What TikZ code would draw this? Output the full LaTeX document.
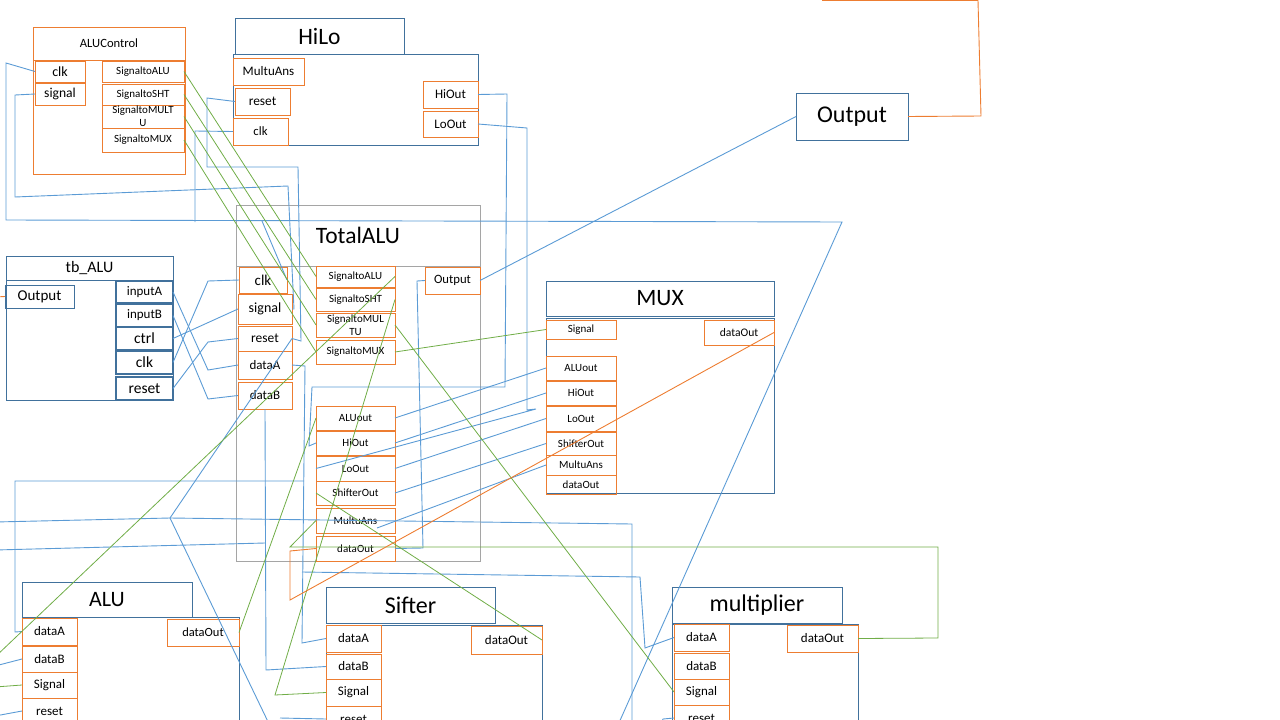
\documentclass[tikz,border=0pt]{standalone}
\usepackage{fontspec}
\setmainfont{Carlito}
\definecolor{boxblue}{HTML}{41719C}
\definecolor{wireblue}{HTML}{5B9BD5}
\definecolor{portorange}{HTML}{ED7D31}
\definecolor{siggreen}{HTML}{70AD47}
\definecolor{framegrey}{HTML}{A5A5A5}
\tikzset{
  fs/.style={font=\fontsize{#1}{13}\selectfont},
  blkb/.style={draw=boxblue, line width=0.9pt},
  blko/.style={draw=portorange, line width=1pt},
  blkg/.style={draw=framegrey, line width=1pt},
  tbport/.style={draw=boxblue, line width=1.4pt},
  wire/.style={draw=wireblue, line width=0.9pt},
  sig/.style={draw=siggreen, line width=0.8pt},
  dat/.style={draw=portorange, line width=0.9pt},
}
\begin{document}
\begin{tikzpicture}[x=1pt, y=-1pt]
		\useasboundingbox (0,0) rectangle (1280,720);
		\clip (0,0) rectangle (1280,720);
		\begin{scope}[every node/.style={inner sep=0pt, outer sep=0pt}]
		% ALUControl
		\node[blko, minimum width=152pt, minimum height=147pt] (ctl) at (109,100.5) {};
		\node[blko, fs=12.6, minimum width=152pt, minimum height=33pt] (ctl-t) at (109,43.5) {ALUControl};
		\node[blko, fs=14, minimum width=50pt, minimum height=21pt] (ctl-clk) at (60,71.5) {clk};
		\node[blko, fs=13.6, minimum width=50pt, minimum height=22pt] (ctl-sig) at (60,94) {signal};
		\node[blko, fs=11, minimum width=82pt, minimum height=21pt] (ctl-salu) at (143,71.5) {SignaltoALU};
		\node[blko, fs=11, minimum width=82pt, minimum height=21pt] (ctl-ssht) at (143,94.5) {SignaltoSHT};
		\node[blko, fs=11, align=center, minimum width=82pt, minimum height=23pt] (ctl-smul) at (143,116.5) {SignaltoMULT\\U};
		\node[blko, fs=11, minimum width=82pt, minimum height=24pt] (ctl-smux) at (143,140) {SignaltoMUX};
		
		% HiLo
		\node[blkb, fs=23.5, minimum width=169pt, minimum height=36pt] (hilo-t) at (319.5,36) {HiLo};
		\node[blkb, minimum width=245pt, minimum height=91pt] (hilo) at (355.5,99.5) {};
		\node[blko, fs=13, minimum width=71pt, minimum height=27pt] (hilo-mu) at (268.5,71.5) {MultuAns};
		\node[blko, fs=13.4, minimum width=55pt, minimum height=27pt] (hilo-rst) at (262.5,101.5) {reset};
		\node[blko, fs=12.7, minimum width=55pt, minimum height=27pt] (hilo-clk) at (260.5,131.5) {clk};
		\node[blko, fs=13, minimum width=55pt, minimum height=27pt] (hilo-hi) at (450.5,94.5) {HiOut};
		\node[blko, fs=13, minimum width=55pt, minimum height=26pt] (hilo-lo) at (450.5,124) {LoOut};
		
		% Output
		\node[blkb, fs=24, minimum width=112pt, minimum height=47pt] (out) at (852,116.5) {Output};
		
		% TotalALU
		\node[blkg, minimum width=244pt, minimum height=356pt] (tot) at (358,383) {};
		\node[blkg, fs=23.5, minimum width=244pt, minimum height=61pt] (tot-t) at (358,235.5) {TotalALU};
		\node[blko, fs=15, minimum width=48pt, minimum height=26pt] (tot-clk) at (263,280) {clk};
		\node[blko, fs=14, minimum width=54pt, minimum height=30pt] (tot-sig) at (265,309) {signal};
		\node[blko, fs=13.5, minimum width=54pt, minimum height=25pt] (tot-rst) at (265,338.5) {reset};
		\node[blko, fs=13, minimum width=54pt, minimum height=28pt] (tot-a) at (265,365) {dataA};
		\node[blko, fs=13, minimum width=54pt, minimum height=27pt] (tot-b) at (265,395.5) {dataB};
		\node[blko, fs=11, minimum width=79pt, minimum height=21pt] (tot-salu) at (355.5,276.5) {SignaltoALU};
		\node[blko, fs=11, minimum width=79pt, minimum height=23pt] (tot-ssht) at (355.5,299.5) {SignaltoSHT};
		\node[blko, fs=11, align=center, minimum width=79pt, minimum height=24pt] (tot-smul) at (355.5,325) {SignaltoMUL\\TU};
		\node[blko, fs=11, minimum width=79pt, minimum height=24pt] (tot-smux) at (355.5,352) {SignaltoMUX};
		\node[blko, fs=11, minimum width=79pt, minimum height=24pt] (tot-alu) at (355.5,418) {ALUout};
		\node[blko, fs=11, minimum width=79pt, minimum height=24pt] (tot-hi) at (355.5,443) {HiOut};
		\node[blko, fs=11, minimum width=79pt, minimum height=25pt] (tot-lo) at (355.5,468.5) {LoOut};
		\node[blko, fs=11, minimum width=79pt, minimum height=24pt] (tot-sh) at (355.5,493) {ShifterOut};
		\node[blko, fs=11, minimum width=79pt, minimum height=25pt] (tot-mu) at (355.5,520.5) {MultuAns};
		\node[blko, fs=11, minimum width=79pt, minimum height=25pt] (tot-do) at (355.5,548.5) {dataOut};
		\node[blko, fs=12.7, minimum width=55pt, minimum height=27pt] (tot-out) at (452.5,280.5) {Output};
		
		% tb_ALU
		\node[blkb, minimum width=167pt, minimum height=144pt] (tb) at (89.5,328) {};
		\node[blkb, fs=16, minimum width=167pt, minimum height=24pt] (tb-t) at (89.5,268) {tb\_ALU};
		\node[blkb, fs=15, minimum width=69pt, minimum height=23pt] (tb-out) at (39.5,296.5) {Output};
		\node[tbport, fs=13, minimum width=57pt, minimum height=22pt] (tb-a) at (144.5,292) {inputA};
		\node[tbport, fs=13, minimum width=57pt, minimum height=23pt] (tb-b) at (144.5,315.5) {inputB};
		\node[tbport, fs=15.5, minimum width=57pt, minimum height=23pt] (tb-ctrl) at (144.5,338.5) {ctrl};
		\node[tbport, fs=15.5, minimum width=57pt, minimum height=23pt] (tb-clk) at (144.5,362.5) {clk};
		\node[tbport, fs=15.5, minimum width=57pt, minimum height=23pt] (tb-rst) at (144.5,388.5) {reset};
		
		% MUX
		\node[blkb, fs=23.5, minimum width=228pt, minimum height=35pt] (mux-t) at (660,298.5) {MUX};
		\node[blkb, minimum width=228pt, minimum height=175pt] (mux) at (660,405.5) {};
		\node[blko, fs=11, minimum width=70pt, minimum height=19pt] (mux-sig) at (581,329.5) {Signal};
		\node[blko, fs=11.6, minimum width=70pt, minimum height=25pt] (mux-do) at (739,332.5) {dataOut};
		\node[blko, fs=11, minimum width=70pt, minimum height=24pt] (mux-alu) at (581,368) {ALUout};
		\node[blko, fs=11, minimum width=70pt, minimum height=24pt] (mux-hi) at (581,393) {HiOut};
		\node[blko, fs=11, minimum width=70pt, minimum height=25pt] (mux-lo) at (581,418.5) {LoOut};
		\node[blko, fs=11, minimum width=70pt, minimum height=23pt] (mux-sh) at (581,443.5) {ShifterOut};
		\node[blko, fs=11, minimum width=70pt, minimum height=20pt] (mux-mu) at (581,465) {MultuAns};
		\node[blko, fs=11, minimum width=70pt, minimum height=19pt] (mux-do2) at (581,484.5) {dataOut};
		
		% ALU
		\node[blkb, fs=22, minimum width=170pt, minimum height=35pt] (alu-t) at (107,599.5) {ALU};
		\node[blkb, minimum width=217pt, minimum height=123pt] (alu) at (130.5,678.5) {};
		\node[blko, fs=13, minimum width=55pt, minimum height=27pt] (alu-a) at (49.5,631.5) {dataA};
		\node[blko, fs=13, minimum width=55pt, minimum height=26pt] (alu-b) at (49.5,659) {dataB};
		\node[blko, fs=13, minimum width=55pt, minimum height=26pt] (alu-sig) at (49.5,685) {Signal};
		\node[blko, fs=13, minimum width=55pt, minimum height=26pt] (alu-rst) at (49.5,711) {reset};
		\node[blko, fs=12.5, minimum width=72pt, minimum height=27pt] (alu-do) at (203,632.5) {dataOut};
		
		% Sifter
		\node[blkb, fs=24, minimum width=169pt, minimum height=36pt] (sif-t) at (410.5,605) {Sifter};
		\node[blkb, minimum width=216pt, minimum height=120pt] (sif) at (434,685) {};
		\node[blko, fs=13, minimum width=55pt, minimum height=27pt] (sif-a) at (353.5,638.5) {dataA};
		\node[blko, fs=13, minimum width=55pt, minimum height=25pt] (sif-b) at (353.5,666.5) {dataB};
		\node[blko, fs=13, minimum width=55pt, minimum height=27pt] (sif-sig) at (353.5,692.5) {Signal};
		\node[blko, fs=13, minimum width=55pt, minimum height=26pt] (sif-rst) at (353.5,719) {reset};
		\node[blko, fs=13, minimum width=71pt, minimum height=28pt] (sif-do) at (506.5,640) {dataOut};
		
		% multiplier
		\node[blkb, fs=24, minimum width=170pt, minimum height=36pt] (mul-t) at (757,605) {multiplier};
		\node[blkb, minimum width=186pt, minimum height=121pt] (mul) at (765,684.5) {};
		\node[blko, fs=13, minimum width=55pt, minimum height=27pt] (mul-a) at (701.5,637.5) {dataA};
		\node[blko, fs=13, minimum width=55pt, minimum height=26pt] (mul-b) at (701.5,666) {dataB};
		\node[blko, fs=13, minimum width=55pt, minimum height=26pt] (mul-sig) at (701.5,692) {Signal};
		\node[blko, fs=13, minimum width=55pt, minimum height=26pt] (mul-rst) at (701.5,718) {reset};
		\node[blko, fs=13, minimum width=71pt, minimum height=27pt] (mul-do) at (822.5,638.5) {dataOut};
		\end{scope}
		
		% free ends
		\coordinate (rstfork) at (170,518);
		\coordinate (mufree) at (377,528);
		
		% blue wires
		\draw[wire] (ctl-clk.west) -- (6,63) -- (6,220) -- (842,222) -- (618,725);
		\draw[wire] (tot-clk.east) -- (262,221);
		\draw[wire] (hilo-clk.west) -- (195,131) -- (195,222);
		\draw[wire] (ctl-sig.west) -- (15,95) -- (15,197) -- (288,186) -- (294,309) -- (tot-sig.east);
		\draw[wire] (hilo-rst.west) -- (207,98) -- (207,167) -- (298,167) -- (301,341) -- (tot-rst.east);
		\draw[wire] (hilo-hi.east) -- (507,94) -- (505,387) -- (312,387) -- (309,446) -- (tot-hi.west);
		\draw[wire] (hilo-lo.east) -- (527,128) -- (527,410) -- (536,409) -- (tot-lo.west);
		
		\draw[wire] (tb-a.east) -- (208,370) -- (tot-a.west);
		\draw[wire] (tb-b.east) -- (208,399) -- (tot-b.west);
		\draw[wire] (tb-ctrl.east) -- (tot-sig.west);
		\draw[wire] (tb-clk.east) -- (208,281) -- (tot-clk.west);
		\draw[wire] (tb-rst.east) -- (208,342) -- (tot-rst.west);
		
		\draw[wire] (tot-out.east) -- (out.west);
		\draw[wire] (tot-out.west) -- (417,281) -- (423,548) -- (tot-do.east);
		
		\draw[wire] (tot-alu.east) -- (mux-alu.west);
		\draw[wire] (tot-hi.east) -- (mux-hi.west);
		\draw[wire] (tot-lo.east) -- (mux-lo.west);
		\draw[wire] (tot-sh.east) -- (mux-sh.west);
		\draw[wire] (mux-mu.west) -- (mufree);
		
		\draw[wire] (tot-a.east) -- (305,366) -- (302,643) -- (sif-a.west);
		\draw[wire] (304,481) -- (15,481) -- (15,632) -- (alu-a.west);
		\draw[wire] (302,572) -- (640,577) -- (645,648) -- (mul-a.west);
		
		\draw[wire] (tot-b.south) -- (266,670) -- (sif-b.west);
		\draw[wire] (265,543) -- (-5,550);
		\draw[wire] (alu-b.west) -- (-5,666);
		
		\draw[wire] (tot-rst.east) -- (rstfork);
		\draw[wire] (rstfork) -- (272,730);
		\draw[wire] (rstfork) -- (-5,522);
		\draw[wire] (rstfork) -- (632,524) -- (632,730);
		\draw[wire] (alu-rst.west) -- (-5,716);
		\draw[wire] (sif-rst.west) -- (280,718);
		\draw[wire] (mul-rst.west) -- (663,719) -- (658,730);
		
		% green signals
		\draw[sig] (ctl-salu.east) -- (tot-salu.west);
		\draw[sig] (ctl-ssht.east) -- (tot-ssht.west);
		\draw[sig] (ctl-smul.east) -- (tot-smul.west);
		\draw[sig] (ctl-smux.east) -- (tot-smux.west);
		\draw[sig] (tot-smux.east) -- (mux-sig.west);
		\draw[sig] (tot-smul.east) -- (mul-sig.west);
		\draw[sig] (tot-ssht.east) -- (275,695) -- (sif-sig.west);
		\draw[sig] (tot-salu.east) -- (-5,657);
		\draw[sig] (alu-sig.west) -- (-5,687);
		\draw[sig] (alu-do.east) -- (tot-alu.west);
		\draw[sig] (sif-do.east) -- (tot-sh.west);
		\draw[sig] (mul-do.east) -- (938,638) -- (938,547) -- (290,547) -- (tot-mu.west);
		
		% orange data
		\draw[dat] (tot-do.west) -- (290,551) -- (290,600) -- (mux-do.east);
		\draw[dat] (out.east) -- (981,116) -- (978,0.5) -- (822,0.5);
		\draw[dat] (tb-out.west) -- (-5,297);
		
		\end{tikzpicture}
\end{document}
